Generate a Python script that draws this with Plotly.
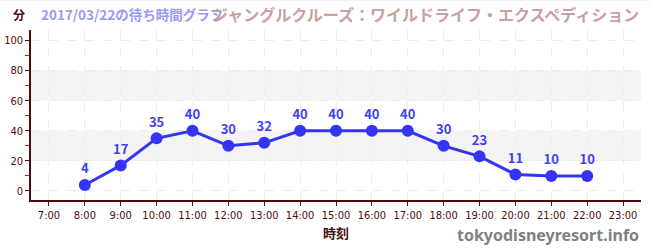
import plotly.graph_objects as go

hours = [8, 9, 10, 11, 12, 13, 14, 15, 16, 17, 18, 19, 20, 21, 22]
waits = [4, 17, 35, 40, 30, 32, 40, 40, 40, 40, 30, 23, 11, 10, 10]
tick_hours = list(range(7, 24))
tick_labels = [f"{h}:00" for h in tick_hours]
y_ticks = [0, 20, 40, 60, 80, 100]
bands = [(20, 40), (60, 80)]

axis_color = "#4a0d0d"
fig = go.Figure()
fig.add_trace(go.Scatter(
    x=hours, y=waits, mode="lines+markers+text",
    line=dict(color="#3434f5", width=3),
    marker=dict(color="#3434f5", size=12),
    text=[str(v) for v in waits], textposition="top center",
    textfont=dict(color="#3f3ff0", size=13, family="Noto Sans CJK JP, Noto Sans", weight="bold"),
    cliponaxis=False, hoverinfo="skip",
))
for lo, hi in bands:
    fig.add_shape(type="rect", xref="paper", yref="y", x0=0, x1=1, y0=lo, y1=hi,
                  fillcolor="#f4f4f4", line_width=0, layer="below")

fig.update_layout(
    width=650, height=250, margin=dict(l=31, r=9, t=30, b=50),
    plot_bgcolor="white", paper_bgcolor="white", showlegend=False,
    font=dict(family="Noto Sans CJK JP", color=axis_color),
    xaxis=dict(range=[6.5, 23.5], tickmode="array", tickvals=tick_hours, ticktext=tick_labels,
               automargin=False,
               showline=True, linecolor=axis_color, linewidth=1.5, ticks="outside", ticklen=4,
               tickcolor=axis_color, tickfont=dict(size=11, color=axis_color, family="DejaVu Sans Condensed"),
               showgrid=True, gridcolor="#ececec", griddash="dash", zeroline=False,
               title=dict(text="<b>時刻</b>", font=dict(size=13, color=axis_color), standoff=8)),
    yaxis=dict(range=[-6, 107], tickmode="array", tickvals=y_ticks, automargin=False,
               showline=True, linecolor=axis_color, linewidth=1.5, ticks="outside", ticklen=4,
               tickcolor=axis_color, tickfont=dict(size=11, color=axis_color, family="DejaVu Sans Condensed"),
               showgrid=True, gridcolor="#ececec", griddash="dash", zeroline=False,
               minor=dict(tickvals=[10, 30, 50, 70, 90], ticks="outside", ticklen=4, tickcolor="red",
                          showgrid=False)),
)
fig.add_shape(type="line", xref="paper", yref="paper", x0=-0.06, x1=1.05, y0=1.18, y1=1.18,
              line=dict(color="#e4e4ff", width=2))
fig.add_annotation(xref="paper", yref="paper", x=-0.02, y=1.09, xanchor="center", yanchor="middle",
                   text="<b>分</b>", showarrow=False, font=dict(size=12, color=axis_color))
fig.add_annotation(xref="paper", yref="paper", x=0.013, y=1.165, xanchor="left", yanchor="top",
                   text="<b>2017/03/22の待ち時間グラフ</b>", showarrow=False,
                   font=dict(size=13.5, color="#9a9af5"))
fig.add_annotation(xref="paper", yref="paper", x=1.0, y=1.175, xanchor="right", yanchor="top",
                   text="<b>ジャングルクルーズ：ワイルドライフ・エクスペディション</b>", showarrow=False,
                   font=dict(size=16, color="#c9a0a0"))
fig.add_annotation(xref="paper", yref="paper", x=1.0, y=-0.13, xanchor="right", yanchor="top",
                   text="<b>tokyodisneyresort.info</b>", showarrow=False,
                   font=dict(size=16, color="#808080", family="Noto Sans"))
fig.write_html("out.html")
